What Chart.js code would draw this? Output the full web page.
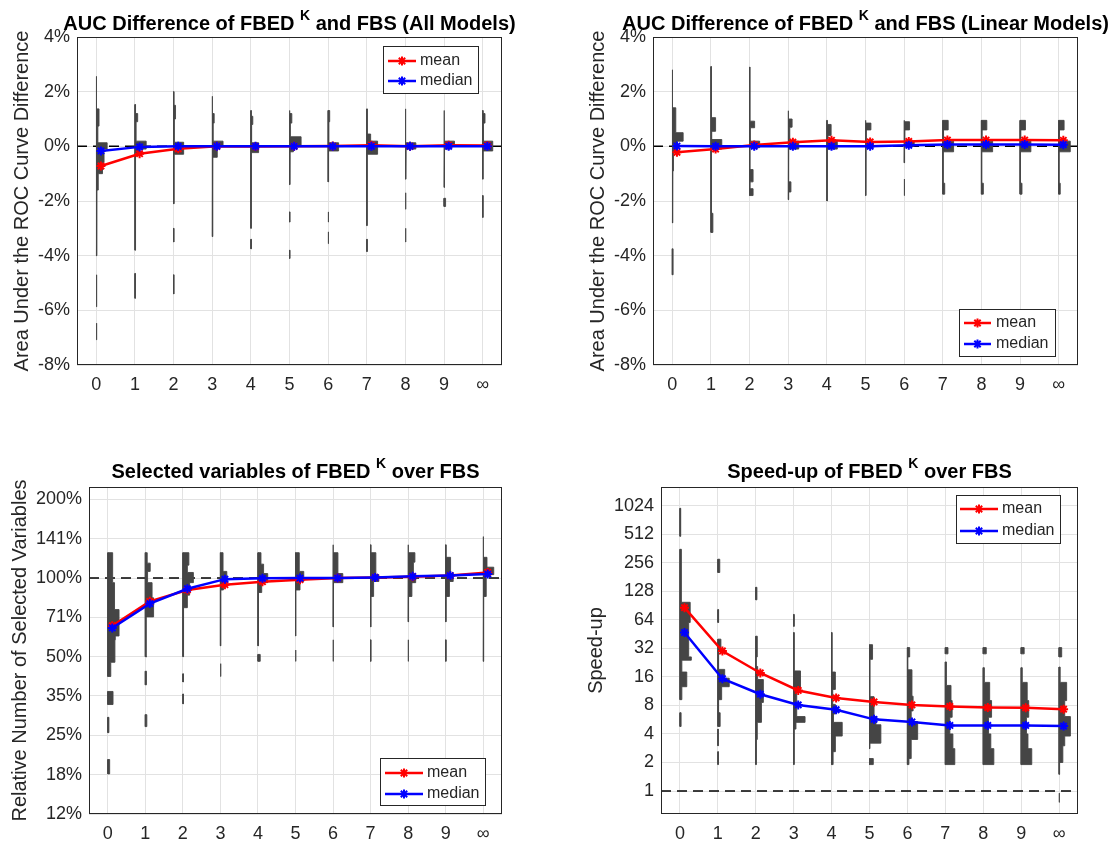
<!DOCTYPE html>
<html>
<head>
<meta charset="utf-8">
<title>FBED K vs FBS</title>
<script src="https://cdn.jsdelivr.net/npm/chart.js@4/dist/chart.umd.min.js"></script>
<style>
  html, body { margin: 0; padding: 0; background: #ffffff; }
  #page { position: relative; width: 1112px; height: 842px; overflow: hidden; }
  #page canvas { position: absolute; }
</style>
</head>
<body>
<div id="page">
  <canvas id="aucAll" width="556" height="421" style="left:0;top:0"></canvas>
  <canvas id="aucLin" width="556" height="421" style="left:556px;top:0"></canvas>
  <canvas id="vars" width="556" height="421" style="left:0;top:421px"></canvas>
  <canvas id="speed" width="556" height="421" style="left:556px;top:421px"></canvas>
</div>
<script>
// ---- categories and tick labels ----
const xLabels = ['0', '1', '2', '3', '4', '5', '6', '7', '8', '9', '\u221E'];
const kPositions = [0, 1, 2, 3, 4, 5, 6, 7, 8, 9, 10];

const aucTickValues = [-8, -6, -4, -2, 0, 2, 4];
const aucTickLabels = ['-8%', '-6%', '-4%', '-2%', '0%', '2%', '4%'];
const varsTickValues = [0.125, 0.1768, 0.25, 0.3536, 0.5, 0.7071, 1, 1.4142, 2];
const varsTickLabels = ['12%', '18%', '25%', '35%', '50%', '71%', '100%', '141%', '200%'];
const speedTickValues = [1, 2, 4, 8, 16, 32, 64, 128, 256, 512, 1024];
const speedTickLabels = ['1', '2', '4', '8', '16', '32', '64', '128', '256', '512', '1024'];

// ---- summary series (AUC difference in %, ratios, speed-up factors) ----
const aucAllMean   = [-0.72, -0.27, -0.09, 0.0, -0.01, 0.0, 0.01, 0.04, 0.0, 0.04, 0.03];
const aucAllMedian = [-0.17, -0.02, 0.0, 0.0, 0.0, 0.0, 0.0, 0.0, 0.0, 0.0, 0.0];
const aucLinMean   = [-0.22, -0.10, 0.05, 0.15, 0.22, 0.16, 0.18, 0.23, 0.23, 0.23, 0.22];
const aucLinMedian = [0.01, 0.0, 0.0, 0.0, 0.0, 0.0, 0.04, 0.07, 0.07, 0.07, 0.06];
const varsMean     = [0.657, 0.814, 0.90, 0.943, 0.968, 0.985, 1.0, 1.005, 1.012, 1.022, 1.05];
const varsMedian   = [0.644, 0.798, 0.91, 0.99, 0.997, 1.0, 1.0, 1.005, 1.015, 1.022, 1.035];
const speedMean    = [86, 30, 17.6, 11.5, 9.6, 8.7, 8.1, 7.8, 7.6, 7.55, 7.3];
const speedMedian  = [47, 15.3, 10.5, 8.1, 7.2, 5.7, 5.35, 4.92, 4.92, 4.92, 4.85];

// ---- per-K distributions: [low, high, relative width] bins ----
const aucAllHist = [
  [[-7.08,-6.47,0.015],[-5.87,-4.7,0.015],[-4.0,-1.6,0.015],[-1.6,-1.0,0.05],[-1.0,-0.6,0.16],[-0.6,-0.1,0.2],[-0.1,0.13,0.28],[0.13,0.74,0.04],[0.74,1.37,0.07],[1.37,2.56,0.012]],
  [[-5.56,-4.65,0.012],[-3.8,-0.3,0.015],[-0.3,-0.1,0.12],[-0.1,0.19,0.29],[0.19,0.9,0.03],[0.9,1.2,0.07],[1.2,1.53,0.015]],
  [[-5.4,-4.7,0.012],[-3.5,-3.0,0.012],[-2.1,-0.29,0.015],[-0.29,0.15,0.26],[0.15,1.0,0.02],[1.0,1.5,0.05],[1.5,2.0,0.012]],
  [[-3.3,-0.4,0.015],[-0.4,0.0,0.13],[0.0,0.19,0.28],[0.19,0.85,0.025],[0.85,1.2,0.05],[1.2,1.83,0.012]],
  [[-3.75,-3.4,0.015],[-3.0,-0.23,0.012],[-0.23,0.13,0.2],[0.13,0.8,0.02],[0.8,1.1,0.05],[1.1,1.31,0.012]],
  [[-4.1,-3.8,0.015],[-2.77,-2.4,0.015],[-1.4,-0.2,0.012],[-0.2,0.0,0.1],[0.0,0.35,0.3],[0.35,0.85,0.02],[0.85,1.2,0.06],[1.2,1.31,0.012]],
  [[-3.56,-3.13,0.015],[-2.77,-2.4,0.015],[-1.3,-0.17,0.012],[-0.17,0.13,0.27],[0.13,0.9,0.02],[0.9,1.31,0.04]],
  [[-3.85,-3.4,0.015],[-2.9,-0.29,0.012],[-0.29,0.19,0.28],[0.19,0.45,0.1],[0.45,1.37,0.015]],
  [[-3.5,-3.0,0.015],[-2.3,-1.7,0.015],[-1.2,-0.1,0.012],[-0.1,0.13,0.27],[0.13,1.37,0.015]],
  [[-2.2,-1.9,0.04],[-1.5,-0.1,0.012],[-0.1,0.0,0.15],[0.0,0.19,0.27],[0.19,1.31,0.015]],
  [[-2.6,-1.8,0.012],[-1.2,-0.17,0.012],[-0.17,0.19,0.26],[0.19,0.85,0.02],[0.85,1.2,0.06],[1.2,1.31,0.012]]
];
const aucLinHist = [
  [[-4.7,-3.75,0.02],[-2.8,-0.9,0.012],[-0.9,-0.2,0.03],[-0.2,0.19,0.12],[0.19,0.5,0.28],[0.5,1.41,0.09],[1.41,2.8,0.012]],
  [[-3.15,-2.45,0.05],[-2.45,-0.1,0.012],[-0.1,0.25,0.28],[0.25,0.55,0.02],[0.55,1.05,0.12],[1.05,2.92,0.012]],
  [[-1.8,-1.55,0.09],[-1.55,-1.3,0.012],[-1.3,-0.85,0.09],[-0.85,-0.05,0.012],[-0.05,0.19,0.26],[0.19,0.68,0.02],[0.68,0.92,0.13],[0.92,2.9,0.012]],
  [[-1.95,-1.67,0.012],[-1.67,-1.3,0.07],[-1.3,-0.1,0.012],[-0.1,0.19,0.27],[0.19,0.7,0.04],[0.7,1.0,0.1],[1.0,1.3,0.012]],
  [[-2.0,-0.1,0.012],[-0.1,0.19,0.27],[0.19,0.4,0.03],[0.4,0.8,0.11],[0.8,0.95,0.012]],
  [[-1.8,-0.05,0.012],[-0.05,0.13,0.2],[0.13,0.6,0.02],[0.6,0.85,0.14],[0.85,0.95,0.012]],
  [[-1.8,-1.2,0.015],[-0.6,0.0,0.012],[0.0,0.19,0.26],[0.19,0.6,0.02],[0.6,0.9,0.14],[0.9,0.95,0.012]],
  [[-1.75,-1.35,0.05],[-1.35,-0.2,0.012],[-0.2,0.19,0.28],[0.19,0.6,0.02],[0.6,0.95,0.14]],
  [[-1.75,-1.35,0.05],[-1.35,-0.2,0.012],[-0.2,0.19,0.29],[0.19,0.6,0.02],[0.6,0.95,0.14]],
  [[-1.75,-1.35,0.05],[-1.35,-0.2,0.012],[-0.2,0.19,0.28],[0.19,0.6,0.02],[0.6,0.95,0.14]],
  [[-1.75,-1.35,0.04],[-1.35,-0.2,0.012],[-0.2,0.19,0.3],[0.19,0.6,0.02],[0.6,0.95,0.14]]
];
const varsHist = [
  [[0.178,0.202,0.05],[0.256,0.293,0.03],[0.328,0.368,0.14],[0.42,0.476,0.08],[0.476,0.58,0.19],[0.58,0.6,0.2],[0.6,0.757,0.3],[0.757,0.96,0.18],[0.96,1.25,0.13]],
  [[0.27,0.3,0.04],[0.39,0.44,0.03],[0.5,0.58,0.04],[0.58,0.71,0.02],[0.71,0.84,0.22],[0.84,0.96,0.18],[0.96,1.06,0.06],[1.06,1.14,0.13],[1.14,1.25,0.05]],
  [[0.33,0.36,0.015],[0.4,0.43,0.015],[0.5,0.58,0.015],[0.58,0.77,0.02],[0.77,0.86,0.12],[0.86,0.96,0.18],[0.96,1.05,0.28],[1.05,1.12,0.12],[1.12,1.25,0.16]],
  [[0.42,0.47,0.015],[0.55,0.9,0.012],[0.9,0.96,0.08],[0.96,1.06,0.17],[1.06,1.25,0.07]],
  [[0.48,0.51,0.06],[0.55,0.88,0.012],[0.88,0.96,0.1],[0.96,1.04,0.26],[1.04,1.13,0.15],[1.13,1.25,0.08]],
  [[0.48,0.53,0.012],[0.6,0.9,0.012],[0.9,0.97,0.12],[0.97,1.06,0.22],[1.06,1.25,0.1]],
  [[0.48,0.58,0.012],[0.65,0.96,0.012],[0.96,1.04,0.26],[1.04,1.25,0.13],[1.25,1.34,0.012]],
  [[0.48,0.58,0.012],[0.65,0.85,0.012],[0.85,0.97,0.08],[0.97,1.03,0.22],[1.03,1.25,0.14],[1.25,1.34,0.012]],
  [[0.48,0.58,0.012],[0.68,0.85,0.012],[0.85,0.96,0.1],[0.96,1.02,0.2],[1.02,1.15,0.14],[1.15,1.25,0.18],[1.25,1.34,0.012]],
  [[0.48,0.58,0.012],[0.68,0.85,0.012],[0.85,0.97,0.1],[0.97,1.04,0.2],[1.04,1.2,0.13],[1.2,1.34,0.012]],
  [[0.48,0.85,0.012],[0.85,1.03,0.08],[1.03,1.1,0.28],[1.1,1.2,0.1],[1.2,1.44,0.012]]
];
const speedHist = [
  [[4.8,6.7,0.03],[9.2,12.6,0.05],[12.6,18,0.18],[18,24,0.05],[24,26,0.3],[26,60,0.23],[60,98,0.27],[98,135,0.05],[135,185,0.04],[185,355,0.03],[487,962,0.02]],
  [[1.9,2.6,0.015],[3.0,4.5,0.012],[4.8,6.7,0.06],[6.7,9.2,0.02],[9.2,12.6,0.1],[12.6,15.5,0.3],[15.5,19.2,0.18],[19.2,31,0.02],[31,40,0.08],[60,82,0.02],[202,279,0.05]],
  [[1.9,3.5,0.015],[3.5,5.3,0.04],[5.3,8.6,0.15],[8.6,15,0.2],[15,20.6,0.05],[20.6,26,0.012],[26,43,0.04],[104,141,0.03]],
  [[1.9,4.5,0.015],[4.5,5.3,0.06],[5.3,6.1,0.3],[6.1,11.8,0.08],[11.8,18.5,0.18],[18.5,47,0.015],[54.6,73,0.015]],
  [[1.9,2.6,0.04],[2.6,3.8,0.1],[3.8,5.3,0.28],[5.3,6.5,0.05],[6.5,8.2,0.1],[8.2,11.8,0.03],[11.8,18,0.1],[18,47,0.015]],
  [[1.9,2.2,0.1],[2.8,3.2,0.012],[3.2,5.0,0.3],[5.0,6.1,0.17],[6.1,9.9,0.12],[9.9,24.5,0.015],[24.5,35,0.08]],
  [[1.9,2.2,0.04],[2.2,3.5,0.1],[3.5,5.4,0.27],[5.4,7.0,0.1],[7.0,10,0.15],[10,19,0.12],[19,26,0.012],[26,32.6,0.06]],
  [[1.9,2.8,0.25],[2.8,4.0,0.2],[4.0,6.0,0.12],[6.0,9.0,0.18],[9.0,13,0.15],[13,23,0.03],[28,32.6,0.07]],
  [[1.9,2.8,0.28],[2.8,4.0,0.2],[4.0,6.0,0.14],[6.0,9.0,0.22],[9.0,14,0.17],[14,20,0.03],[28,32.6,0.08]],
  [[1.9,2.8,0.28],[2.8,4.0,0.18],[4.0,6.0,0.14],[6.0,9.0,0.2],[9.0,14,0.16],[14,20,0.03],[28,32.6,0.08]],
  [[0.76,0.95,0.015],[1.5,2.0,0.015],[2.0,3.0,0.1],[3.0,3.8,0.15],[3.8,6.1,0.3],[6.1,9,0.15],[9,14,0.2],[14,20.3,0.03],[26,32.6,0.07]]
];

// ---- styling ----
const FONT = "'Liberation Sans', Arial, Helvetica, sans-serif";
const INK = '#262626';
const GRID = '#e2e2e2';
const HIST = '#454545';
const MEAN_COLOR = '#ff0000';
const MEDIAN_COLOR = '#0000ff';
const markerShift = 0.12;
const CW = 556, CH = 421;

// Merge touching bins into closed step outlines anchored on the K position.
function histogramShapes(bins, x0) {
  const sorted = bins.slice().sort((a, b) => a[0] - b[0]);
  const runs = [];
  let cur = null;
  for (const b of sorted) {
    if (cur && Math.abs(b[0] - cur[cur.length - 1][1]) < 1e-9) cur.push(b);
    else { cur = [b]; runs.push(cur); }
  }
  return runs.map(run => {
    const pts = [{ x: x0, y: run[0][0] }];
    for (const [lo, hi, w] of run) {
      pts.push({ x: x0 + w, y: lo }, { x: x0 + w, y: hi });
    }
    pts.push({ x: x0, y: run[run.length - 1][1] });
    pts.push({ x: x0, y: run[0][0] });
    return pts;
  });
}

// Axes box, title with superscript, rotated y title and the in-plot legend.
const decor = {
  id: 'decor',
  afterDraw(chart, args, o) {
    const ctx = chart.ctx, a = chart.chartArea;
    ctx.save();
    ctx.strokeStyle = INK;
    ctx.lineWidth = 1;
    ctx.strokeRect(Math.round(a.left) + 0.5, Math.round(a.top) + 0.5,
                   Math.round(a.right - a.left) - 1, Math.round(a.bottom - a.top) - 1);

    const mainFont = 'bold 20px ' + FONT, supFont = 'bold 14px ' + FONT;
    let total = 0;
    o.title.forEach(p => { ctx.font = p[1] ? supFont : mainFont; total += ctx.measureText(p[0]).width; });
    let x = (a.left + a.right) / 2 - total / 2;
    ctx.fillStyle = '#000';
    ctx.textAlign = 'left';
    ctx.textBaseline = 'alphabetic';
    o.title.forEach(p => {
      ctx.font = p[1] ? supFont : mainFont;
      ctx.fillText(p[0], x, p[1] ? o.supY : o.titleY);
      x += ctx.measureText(p[0]).width;
    });

    ctx.save();
    ctx.translate(o.yTitleX, (a.top + a.bottom) / 2);
    ctx.rotate(-Math.PI / 2);
    ctx.font = '20px ' + FONT;
    ctx.fillStyle = INK;
    ctx.textAlign = 'center';
    ctx.textBaseline = 'middle';
    ctx.fillText(o.yTitle, 0, 0);
    ctx.restore();

    const L = o.legend;
    ctx.fillStyle = '#ffffff';
    ctx.fillRect(L.x, L.y, L.w, L.h);
    ctx.strokeStyle = INK;
    ctx.lineWidth = 1;
    ctx.strokeRect(L.x + 0.5, L.y + 0.5, L.w, L.h);
    const rows = [['mean', MEAN_COLOR], ['median', MEDIAN_COLOR]];
    rows.forEach((r, i) => {
      const y = L.rowY[i];
      ctx.strokeStyle = r[1];
      ctx.fillStyle = r[1];
      ctx.lineWidth = 2.5;
      ctx.beginPath();
      ctx.moveTo(L.line[0], y);
      ctx.lineTo(L.line[1], y);
      ctx.stroke();
      ctx.lineWidth = 2;
      Chart.helpers.drawPoint(ctx, { pointStyle: 'star', radius: 4.5, borderWidth: 2, rotation: 0 },
                              (L.line[0] + L.line[1]) / 2, y);
      ctx.fillStyle = INK;
      ctx.font = '16px ' + FONT;
      ctx.textAlign = 'left';
      ctx.textBaseline = 'middle';
      ctx.fillText(r[0], L.textX, y);
    });
    ctx.restore();
  }
};

function seriesDataset(values, color, order) {
  return {
    data: values.map((v, i) => ({ x: kPositions[i] + markerShift, y: v })),
    showLine: true,
    borderColor: color,
    backgroundColor: color,
    borderWidth: 2.5,
    pointStyle: 'star',
    pointRadius: 4.5,
    pointBorderWidth: 2,
    pointBorderColor: color,
    pointBackgroundColor: color,
    tension: 0,
    fill: false,
    order: order
  };
}

function makePanel(p) {
  const datasets = [];
  datasets.push(seriesDataset(p.median, MEDIAN_COLOR, 0));
  datasets.push(seriesDataset(p.mean, MEAN_COLOR, 1));
  p.hist.forEach((bins, k) => {
    histogramShapes(bins, kPositions[k]).forEach(pts => {
      datasets.push({
        data: pts,
        showLine: true,
        borderColor: HIST,
        backgroundColor: HIST,
        borderWidth: 0.9,
        pointRadius: 0,
        tension: 0,
        fill: 'shape',
        order: 2
      });
    });
  });
  datasets.push({
    data: [{ x: -0.5, y: p.ref }, { x: 10.5, y: p.ref }],
    showLine: true,
    borderColor: '#000000',
    borderWidth: 1.5,
    borderDash: [10, 6],
    pointRadius: 0,
    fill: false,
    order: 3
  });

  const tickFont = { family: FONT, size: 18 };
  new Chart(document.getElementById(p.id), {
    type: 'scatter',
    data: { datasets },
    options: {
      responsive: false,
      devicePixelRatio: 1,
      animation: false,
      events: [],
      layout: { padding: { left: 0, top: p.area.t, right: CW - p.area.r, bottom: 0 } },
      scales: {
        x: {
          type: 'linear', min: -0.5, max: 10.5,
          afterBuildTicks: s => { s.ticks = kPositions.map(v => ({ value: v })); },
          afterFit: s => { s.height = CH - p.area.b; },
          ticks: { callback: v => xLabels[v], font: tickFont, color: INK, padding: 9, maxRotation: 0, autoSkip: false },
          grid: { color: GRID, lineWidth: 1, drawTicks: false },
          border: { display: false }
        },
        y: {
          type: p.logY ? 'logarithmic' : 'linear', min: p.yMin, max: p.yMax,
          afterBuildTicks: s => { s.ticks = p.yTicks.map(v => ({ value: v })); },
          afterFit: s => { s.width = p.area.l; },
          ticks: { callback: (v, i) => p.yLabels[i], font: tickFont, color: INK, padding: 7, autoSkip: false },
          grid: { color: GRID, lineWidth: 1, drawTicks: false },
          border: { display: false }
        }
      },
      plugins: {
        legend: { display: false },
        tooltip: { enabled: false },
        decor: {
          title: p.title, titleY: p.titleY, supY: p.supY,
          yTitle: p.yTitle, yTitleX: p.yTitleX, legend: p.legend
        }
      }
    },
    plugins: [decor]
  });
}

makePanel({
  id: 'aucAll', area: { l: 77, t: 37, r: 502, b: 365 },
  yMin: -8, yMax: 4, logY: false, yTicks: aucTickValues, yLabels: aucTickLabels, ref: 0,
  mean: aucAllMean, median: aucAllMedian, hist: aucAllHist,
  title: [['AUC Difference of FBED ', false], ['K', true], [' and FBS (All Models)', false]],
  titleY: 30, supY: 20,
  yTitle: 'Area Under the ROC Curve Difference', yTitleX: 22,
  legend: { x: 383, y: 46, w: 95, h: 47, rowY: [61, 81], line: [388, 416], textX: 420 }
});
makePanel({
  id: 'aucLin', area: { l: 97, t: 37, r: 522, b: 365 },
  yMin: -8, yMax: 4, logY: false, yTicks: aucTickValues, yLabels: aucTickLabels, ref: 0,
  mean: aucLinMean, median: aucLinMedian, hist: aucLinHist,
  title: [['AUC Difference of FBED ', false], ['K', true], [' and FBS (Linear Models)', false]],
  titleY: 30, supY: 20,
  yTitle: 'Area Under the ROC Curve Difference', yTitleX: 42,
  legend: { x: 403, y: 309, w: 96, h: 47, rowY: [323, 344], line: [408, 435], textX: 440 }
});
makePanel({
  id: 'vars', area: { l: 89, t: 66, r: 502, b: 393 },
  yMin: 0.125, yMax: 2.23, logY: true, yTicks: varsTickValues, yLabels: varsTickLabels, ref: 1,
  mean: varsMean, median: varsMedian, hist: varsHist,
  title: [['Selected variables of FBED ', false], ['K', true], [' over FBS', false]],
  titleY: 57, supY: 47,
  yTitle: 'Relative Number of Selected Variables', yTitleX: 20,
  legend: { x: 380, y: 337, w: 105, h: 47, rowY: [352, 373], line: [385, 423], textX: 427 }
});
makePanel({
  id: 'speed', area: { l: 105, t: 66, r: 522, b: 393 },
  yMin: 0.572, yMax: 1613, logY: true, yTicks: speedTickValues, yLabels: speedTickLabels, ref: 1,
  mean: speedMean, median: speedMedian, hist: speedHist,
  title: [['Speed-up of FBED ', false], ['K', true], [' over FBS', false]],
  titleY: 57, supY: 47,
  yTitle: 'Speed-up', yTitleX: 40,
  legend: { x: 400, y: 74, w: 104, h: 48, rowY: [88, 110], line: [404, 442], textX: 446 }
});
</script>
</body>
</html>
